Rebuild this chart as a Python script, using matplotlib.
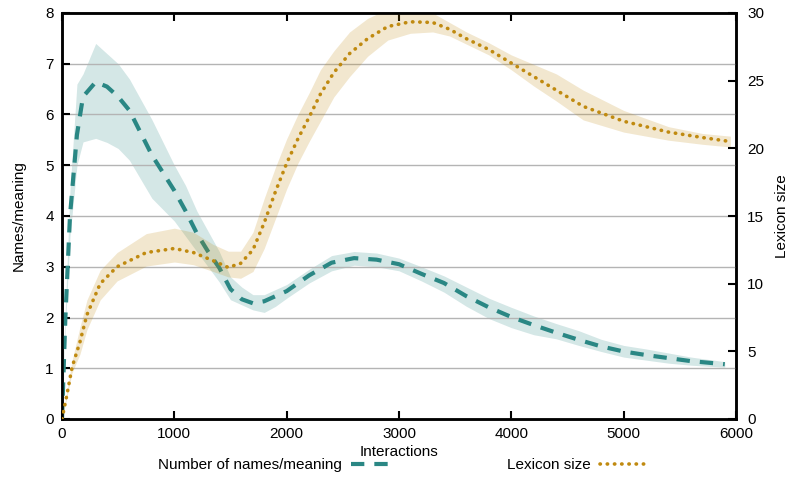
import numpy as np
import matplotlib.pyplot as plt
from matplotlib.lines import Line2D

plt.rcParams['font.family'] = ['Liberation Sans', 'DejaVu Sans']

# Number of names/meaning (left axis)
x_names = [0, 30, 71, 133, 187, 300, 400, 500, 600, 800, 1000, 1100, 1200, 1300, 1400,
           1500, 1600, 1700, 1800, 1900, 2000, 2200, 2400, 2600, 2800, 3000, 3200, 3400,
           3600, 3800, 4000, 4200, 4400, 4600, 4800, 5000, 5200, 5400, 5600, 5900]
names_mean = [0, 2.0, 4.0, 5.6, 6.35, 6.64, 6.55, 6.35, 6.08, 5.2, 4.5, 4.1, 3.66, 3.3, 2.98,
              2.56, 2.36, 2.28, 2.32, 2.42, 2.52, 2.83, 3.08, 3.17, 3.14, 3.05, 2.86, 2.68,
              2.42, 2.2, 2.01, 1.85, 1.7, 1.56, 1.43, 1.33, 1.26, 1.2, 1.14, 1.08]
names_hi = [0, 2.2, 4.5, 6.6, 6.8, 7.4, 7.2, 7.0, 6.7, 5.9, 5.0, 4.6, 4.1, 3.7, 3.3,
            2.8, 2.6, 2.45, 2.45, 2.55, 2.65, 2.95, 3.22, 3.3, 3.27, 3.17, 3.0, 2.82,
            2.6, 2.38, 2.2, 2.03, 1.88, 1.74, 1.57, 1.45, 1.38, 1.3, 1.22, 1.13]
names_lo = [0, 1.8, 3.6, 5.0, 5.46, 5.53, 5.45, 5.33, 5.1, 4.35, 3.9, 3.6, 3.3, 3.0, 2.7,
            2.35, 2.25, 2.15, 2.1, 2.22, 2.38, 2.68, 2.92, 3.03, 3.0, 2.92, 2.72, 2.5,
            2.22, 1.98, 1.8, 1.66, 1.58, 1.45, 1.33, 1.22, 1.16, 1.1, 1.06, 1.02]

# Lexicon size (right axis)
x_lex = [0, 44, 89, 160, 222, 340, 490, 750, 1000, 1170, 1345, 1480, 1590, 1700, 1800,
         1900, 2000, 2100, 2200, 2300, 2420, 2560, 2720, 2900, 3100, 3300, 3450, 3600,
         3800, 4000, 4200, 4400, 4640, 5000, 5400, 5700, 5950]
lex_mean = [0, 1.8, 3.8, 5.7, 7.7, 10.0, 11.25, 12.3, 12.6, 12.3, 11.7, 11.2, 11.5, 12.5, 14.5,
            16.8, 18.9, 20.7, 22.3, 24.0, 25.6, 27.0, 28.1, 29.0, 29.35, 29.3, 28.8, 28.1,
            27.3, 26.3, 25.3, 24.3, 23.1, 22.0, 21.2, 20.8, 20.5]
lex_hi = [0, 2.0, 4.3, 6.8, 8.8, 11.0, 12.3, 13.7, 14.1, 13.8, 12.9, 12.4, 12.4, 13.8, 16.3,
          18.6, 20.7, 22.5, 24.1, 25.8, 27.2, 28.6, 29.6, 30.3, 30.4, 30.0, 29.3, 28.6,
          27.8, 26.9, 26.2, 25.5, 24.3, 22.8, 21.6, 21.1, 20.9]
lex_lo = [0, 1.6, 3.4, 4.8, 6.6, 8.8, 10.2, 11.3, 11.6, 11.4, 10.9, 10.5, 10.4, 10.9, 12.6,
          14.8, 17.0, 18.9, 20.5, 22.0, 23.8, 25.3, 26.8, 28.0, 28.5, 28.6, 28.3, 27.7,
          26.9, 25.8, 24.6, 23.5, 22.1, 21.2, 20.6, 20.3, 20.1]

teal = '#2a8784'
gold = '#c08a10'
fs = 11

fig = plt.figure(figsize=(7.89, 4.78), dpi=100)
ax = fig.add_axes([62/789, 1 - 419/478, (736-62)/789, (419-13)/478])
ax2 = ax.twinx()

ax.set_axisbelow(False)
ax.grid(axis='y', color='#b4b4b4', linewidth=1, zorder=3)

ax.fill_between(x_names, names_lo, names_hi, color=teal, alpha=0.2, linewidth=0, zorder=1)
ax.plot(x_names, names_mean, color=teal, linewidth=3, dashes=(3.2, 2.4), zorder=4)

ax2.fill_between(x_lex, lex_lo, lex_hi, color=gold, alpha=0.2, linewidth=0, zorder=1)
ax2.plot(x_lex, lex_mean, color=gold, linewidth=2.6, linestyle=(0, (0.1, 1.9)),
         dash_capstyle='round', zorder=4)

ax.set_xlim(0, 6000)
ax.set_ylim(0, 8)
ax2.set_ylim(0, 30)
ax.set_xticks(range(0, 6001, 1000))
ax.set_yticks(range(0, 9))
ax2.set_yticks(range(0, 31, 5))

ax.tick_params(direction='in', length=6, width=1.5, labelsize=fs, top=True, right=False, pad=6)
ax2.tick_params(direction='in', length=6, width=1.5, labelsize=fs, pad=8)
for a in (ax, ax2):
    for s in a.spines.values():
        s.set_linewidth(1.8)

ax.set_xlabel('Interactions', fontsize=fs, labelpad=3)
ax.set_ylabel('Names/meaning', fontsize=fs, labelpad=14)
ax2.set_ylabel('Lexicon size', fontsize=fs)
ax2.yaxis.set_label_coords(1.058, 0.5)

handles = [Line2D([], [], color=teal, linewidth=3, dashes=(3.2, 2.4)),
           Line2D([], [], color=gold, linewidth=2.6, linestyle=(0, (0.1, 1.9)),
                  dash_capstyle='round')]
fig.legend(handles, ['Number of names/meaning', 'Lexicon size'], ncol=2,
           markerfirst=False, frameon=False, loc='center',
           bbox_to_anchor=(402/789, 1 - 465/478), fontsize=fs,
           columnspacing=7.2, handlelength=3, handletextpad=0.6)

fig.savefig('out.png', dpi=100)
